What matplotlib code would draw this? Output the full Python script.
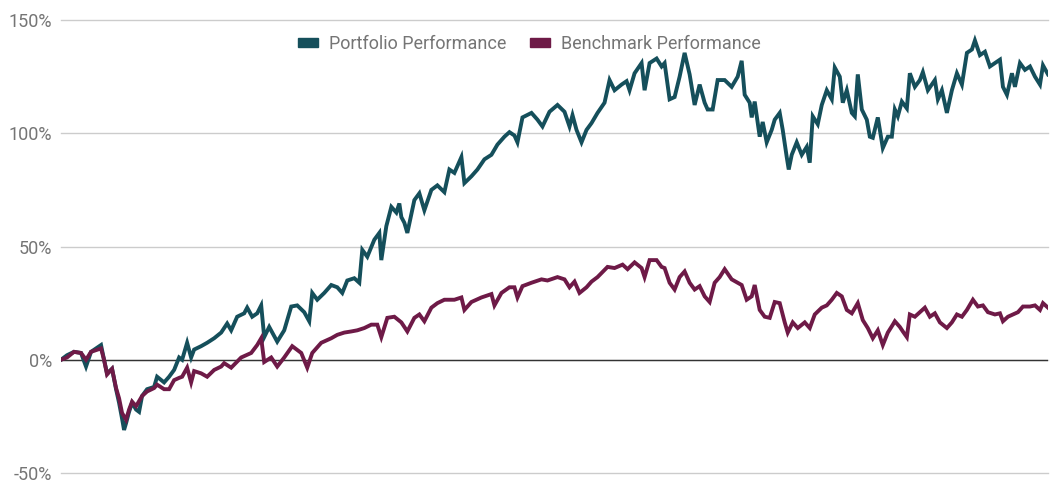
from matplotlib import pyplot as plt
from matplotlib.patches import Patch
from matplotlib.ticker import FuncFormatter

# trading day index and cumulative return (%)
portfolio_days = [0, 6, 13, 20, 25, 30, 40, 43, 46, 51, 55, 58, 61, 63, 65, 68, 71, 75, 78, 81,
                  86, 93, 96, 103, 108, 113, 118, 121, 126, 130, 133, 140, 146, 153, 160, 166, 170, 176, 183, 186,
                  191, 196, 200, 203, 208, 216, 223, 230, 236, 243, 248, 251, 256, 263, 270, 276, 281, 286, 293, 298,
                  301, 306, 313, 318, 320, 325, 330, 335, 338, 340, 343, 346, 353, 358, 363, 370, 376, 383, 388, 393,
                  400, 403, 410, 416, 423, 430, 436, 443, 448, 453, 456, 461, 470, 476, 481, 488, 496, 503, 508, 511,
                  515, 520, 525, 530, 536, 543, 548, 553, 560, 565, 568, 573, 580, 583, 588, 595, 600, 603, 608, 613,
                  618, 623, 628, 633, 638, 643, 646, 651, 656, 663, 670, 676, 680, 683, 688, 690, 693, 698, 701, 705,
                  710, 713, 718, 721, 725, 727, 730, 735, 740, 745, 748, 751, 756, 760, 765, 770, 773, 778, 781, 785,
                  790, 793, 796, 800, 805, 808, 811, 816, 821, 826, 830, 833, 836, 840, 845, 848, 853, 858, 861, 866,
                  873, 876, 880, 885, 890, 895, 900, 905, 910, 913, 918, 923, 928, 933, 938, 941, 945, 950, 953, 958,
                  963, 968, 973, 978, 981, 986]
portfolio = [0, 2, 3.5, 3, -3, 3.5, 6.5, 0, -6, -4, -13, -19, -26, -31, -28, -23, -19, -22, -23, -16,
             -13, -12, -7.5, -10, -7.5, -4.5, 1, 0, 7.5, 1, 4.5, 6, 7.5, 9.5, 12, 16, 13, 19, 20.5, 23,
             19, 20.5, 24, 10, 14.5, 8, 13, 23.5, 24, 21, 17, 29.5, 26.5, 29.5, 33, 32, 29.5, 35, 36, 34,
             48.5, 45.5, 53, 56, 44, 59, 67.5, 65, 69, 63, 60.5, 56, 70.5, 73.5, 66, 75, 77, 74, 84, 82.5,
             89.5, 78, 81, 84, 88.5, 90.5, 95, 98.5, 100.5, 99, 96, 107, 109, 106, 103, 109.5, 112.5, 109.5, 103, 108,
             101.5, 96, 101.5, 104.5, 109, 113.5, 123.5, 119, 121.5, 123, 119, 126.5, 131, 119, 131, 133, 129.5, 131, 115, 116,
             125, 135.5, 126, 112.5, 121.5, 113.5, 110.5, 110.5, 123.5, 123.5, 120.5, 125, 132, 117, 113.5, 107, 114, 98.5, 105, 96,
             101.5, 106, 109, 101.5, 89.5, 84, 90.5, 96, 90.5, 94, 87, 107.5, 104, 112.5, 119, 115, 129, 125, 113.5, 119,
             109, 107.5, 126, 110.5, 106, 98.5, 98, 107, 93.5, 98.5, 98.5, 110.5, 107.5, 114, 111, 126.5, 120.5, 123.5, 127, 119,
             123.5, 115, 119, 109, 119, 126.5, 121.5, 135.5, 137, 141, 134.5, 136, 129.5, 131, 132.5, 120.5, 117, 126.5, 120.5, 131,
             128, 129.5, 125, 121.5, 130, 126]

benchmark_days = [0, 6, 13, 20, 25, 30, 40, 43, 46, 51, 55, 58, 61, 65, 68, 71, 75, 81, 86, 93,
                  96, 103, 108, 113, 118, 121, 126, 130, 133, 140, 146, 153, 160, 163, 170, 180, 190, 196, 200, 203,
                  210, 216, 223, 231, 240, 246, 251, 260, 270, 276, 283, 290, 296, 303, 310, 316, 320, 326, 333, 340,
                  346, 353, 358, 363, 370, 376, 383, 393, 400, 403, 410, 420, 430, 433, 440, 448, 453, 456, 461, 470,
                  480, 486, 496, 503, 508, 513, 518, 525, 530, 536, 546, 553, 561, 566, 573, 580, 583, 588, 595, 600,
                  603, 608, 613, 618, 623, 628, 633, 638, 643, 648, 653, 658, 663, 670, 676, 680, 685, 690, 693, 698,
                  703, 708, 713, 718, 723, 726, 731, 736, 743, 748, 753, 760, 765, 770, 775, 780, 785, 790, 796, 801,
                  806, 811, 816, 821, 826, 831, 833, 838, 841, 845, 848, 853, 858, 863, 868, 873, 878, 885, 890, 895,
                  900, 905, 911, 916, 921, 926, 933, 938, 941, 946, 951, 956, 961, 968, 973, 978, 981, 986]
benchmark = [0, 1, 3.5, 3, 0, 3.5, 5, 0, -6.5, -4, -12.5, -17, -23.5, -26.5, -22, -18.5, -20.5, -16, -14, -12.5,
             -11, -13, -13, -9, -8, -7.5, -3.5, -10, -5, -6, -7.5, -4.5, -3, -1.5, -3.5, 1, 3, 6.5, 9.5, -1,
             1, -3, 1, 6, 3, -3.5, 3, 7.5, 9.5, 11, 12, 12.5, 13, 14, 15.5, 15.5, 10, 18.5, 19, 16.5,
             12.5, 18.5, 20, 17, 23, 25, 26.5, 26.5, 27.5, 22, 25.5, 27.5, 29, 24, 29.5, 32, 32, 27.5, 32.5, 34,
             35.5, 35, 36.5, 35.5, 32, 34.5, 29.5, 32, 34.5, 36.5, 41, 40.5, 42, 40, 43, 40.5, 36.5, 44, 44, 41,
             40.5, 34, 31, 36.5, 39, 34, 31, 32.5, 28, 25.5, 34, 36.5, 40, 35.5, 34, 33, 26.5, 28, 33, 22,
             19, 18.5, 25.5, 25, 16.5, 12, 16.5, 14, 16.5, 14, 20, 23, 24, 26.5, 29.5, 28, 22, 20.5, 25, 17.5,
             14, 9.5, 13, 6.5, 12, 15.5, 17, 14.5, 12.5, 10, 20, 19, 21, 23, 19, 20.5, 16.5, 14, 16.5, 20,
             19, 22, 26.5, 23.5, 24, 21, 20, 20.5, 17, 19, 20, 21, 23.5, 23.5, 24, 22, 25, 23]

yticks = [-50, 0, 50, 100, 150]

teal = '#154f5b'
maroon = '#6e1a47'
grey_text = '#757575'

plt.rcParams['font.family'] = ['Roboto', 'DejaVu Sans']

fig = plt.figure(figsize=(10.59, 5.01), dpi=100)
ax = fig.add_axes([0.0576, 0.0559, 0.932, 0.9041])

ax.plot(portfolio_days, portfolio, color=teal, linewidth=2.8, solid_joinstyle='miter', zorder=3)
ax.plot(benchmark_days, benchmark, color=maroon, linewidth=2.8, solid_joinstyle='miter', zorder=4)

ax.set_ylim(-50, 150)
ax.set_xlim(0, 986)
ax.set_yticks(yticks)
ax.yaxis.set_major_formatter(FuncFormatter(lambda v, p: '%d%%' % v))
ax.set_xticks([])
ax.tick_params(axis='y', length=0, pad=6.5, labelsize=13, labelcolor=grey_text)
for s in ax.spines.values():
    s.set_visible(False)
ax.grid(axis='y', color='#cccccc', linewidth=1, zorder=0)
for gl in ax.get_ygridlines():
    gl.set_clip_on(False)
ax.axhline(0, color='#333333', linewidth=1, zorder=2)
ax.set_axisbelow(True)

handles = [Patch(color=teal, label='Portfolio Performance'),
           Patch(color=maroon, label='Benchmark Performance')]
leg = fig.legend(handles=handles, loc='center', bbox_to_anchor=(0.5, 0.912), ncol=2,
                 frameon=False, fontsize=13, handlelength=1.1, handleheight=0.4,
                 handletextpad=0.62, columnspacing=1.3, labelcolor=grey_text)

fig.savefig('out.png', dpi=100)
